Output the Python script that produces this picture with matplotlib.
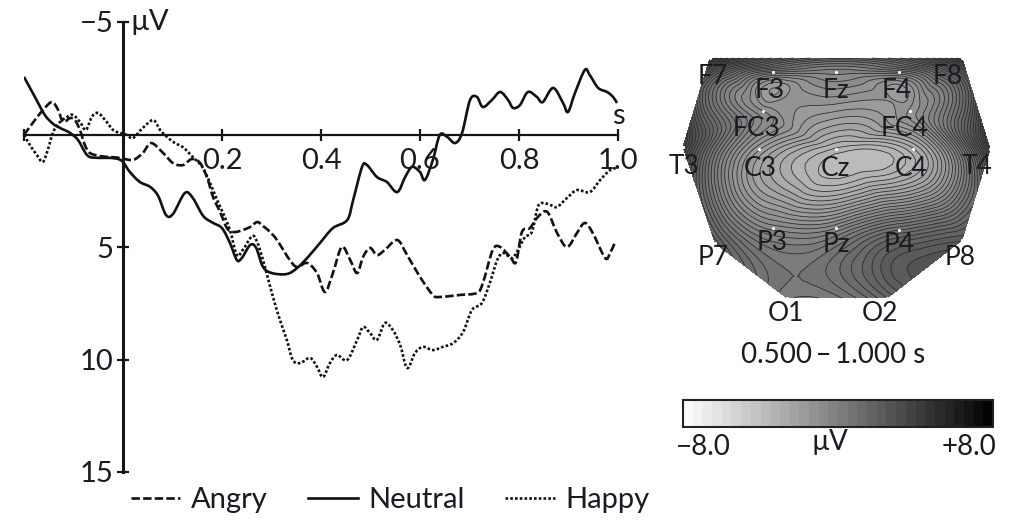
import numpy as np
import matplotlib
matplotlib.use("Agg")
import matplotlib.pyplot as plt
import matplotlib.tri as mtri
from matplotlib.lines import Line2D
from matplotlib.path import Path
from matplotlib.patches import PathPatch

plt.rcParams['font.family'] = ['Lato', 'DejaVu Sans']

# ---------------- ERP data (time in s, amplitude in microvolts) ----------------
neutral_t = [-0.200,-0.178,-0.158,-0.141,-0.127,-0.107,-0.091,-0.077,-0.067,-0.046,-0.026,-0.010,0.000,0.014,0.034,0.055,0.071,0.087,0.101,0.125,0.141,0.162,0.182,0.200,0.216,0.230,0.240,0.257,0.269,0.283,0.301,0.331,0.352,0.374,0.398,0.424,0.453,0.465,0.483,0.493,0.513,0.533,0.554,0.570,0.584,0.600,0.610,0.626,0.640,0.655,0.671,0.685,0.701,0.715,0.727,0.745,0.762,0.778,0.788,0.802,0.818,0.836,0.848,0.869,0.889,0.899,0.913,0.933,0.943,0.960,0.978,0.990,0.998]
neutral_v = [-2.56,-1.67,-0.87,-0.47,-0.29,-0.07,0.24,0.78,1.00,1.04,1.04,1.09,1.22,1.67,2.11,2.33,2.73,3.58,3.53,2.60,2.82,3.62,3.93,4.16,4.82,5.58,5.49,4.91,5.04,5.89,6.16,6.20,5.93,5.44,4.82,4.16,3.80,2.91,1.44,1.36,1.89,2.11,2.56,1.89,1.44,1.67,2.02,1.13,0.02,0.11,0.38,-0.07,-1.53,-1.67,-1.22,-1.53,-1.89,-1.53,-1.18,-1.31,-1.89,-1.67,-1.44,-2.07,-1.40,-1.00,-1.84,-2.87,-2.64,-2.07,-1.89,-1.67,-1.40]

angry_t = [-0.200,-0.178,-0.158,-0.143,-0.131,-0.121,-0.107,-0.097,-0.087,-0.077,-0.067,-0.046,-0.026,-0.006,0.020,0.040,0.057,0.081,0.101,0.121,0.139,0.156,0.170,0.182,0.196,0.210,0.222,0.236,0.257,0.271,0.283,0.297,0.311,0.337,0.352,0.372,0.392,0.408,0.424,0.442,0.459,0.473,0.485,0.499,0.513,0.529,0.554,0.574,0.600,0.626,0.640,0.681,0.715,0.727,0.747,0.762,0.782,0.794,0.806,0.822,0.838,0.857,0.877,0.897,0.917,0.933,0.949,0.974,0.984,0.994]
angry_v = [0.02,-0.64,-1.18,-1.44,-1.09,-0.56,-0.73,-0.64,-0.20,0.47,0.82,0.96,1.00,1.04,1.13,0.82,0.38,0.82,1.27,1.36,1.09,1.27,1.93,2.78,3.44,4.16,4.33,4.29,4.11,3.89,4.07,4.33,4.69,5.58,5.89,5.71,6.16,7.00,6.16,5.00,5.58,6.16,5.44,5.04,5.36,5.13,4.69,5.36,6.33,7.13,7.22,7.13,7.04,6.60,5.13,5.00,5.44,5.67,4.33,4.16,3.67,3.44,4.38,5.00,4.38,3.93,4.38,5.49,5.27,4.78]

happy_t = [-0.200,-0.188,-0.174,-0.162,-0.152,-0.141,-0.127,-0.113,-0.101,-0.087,-0.075,-0.063,-0.051,-0.036,-0.020,-0.006,0.008,0.020,0.040,0.061,0.075,0.089,0.105,0.121,0.141,0.160,0.176,0.190,0.202,0.216,0.230,0.242,0.261,0.271,0.281,0.291,0.303,0.317,0.331,0.343,0.358,0.378,0.392,0.404,0.418,0.432,0.453,0.473,0.485,0.499,0.513,0.529,0.545,0.560,0.574,0.590,0.606,0.626,0.646,0.667,0.687,0.705,0.725,0.741,0.756,0.768,0.786,0.798,0.812,0.826,0.838,0.848,0.863,0.877,0.897,0.917,0.943,0.964,0.984,0.998]
happy_v = [0.02,0.47,0.91,1.22,0.69,-0.11,-0.56,-0.78,-0.87,-0.56,-0.20,-0.78,-0.96,-0.64,-0.20,-0.07,0.02,0.16,-0.29,-0.64,-0.20,0.11,0.38,0.56,1.00,1.44,2.16,2.91,3.49,4.24,5.36,5.13,4.51,4.78,5.44,6.24,7.22,8.24,9.13,10.02,10.16,9.93,10.33,10.78,10.16,9.80,10.02,9.13,8.56,8.82,9.13,8.38,8.69,9.36,10.38,9.71,9.44,9.58,9.44,9.27,8.78,7.80,7.49,6.60,5.58,5.27,5.49,5.13,4.56,4.33,3.22,3.04,3.13,3.22,2.82,2.47,2.56,2.02,1.58,1.49]

series_names = ["Angry", "Neutral", "Happy"]
x_ticks = [-0.2, 0.2, 0.4, 0.6, 0.8, 1.0]
x_ticklabels = ["", "0.2", "0.4", "0.6", "0.8", "1.0"]
y_ticks = [-5, 5, 10, 15]
y_ticklabels = ["\u22125", "5", "10", "15"]

# ---------------- Topographic map data (0.500-1.000 s) ----------------
electrodes = ["F7", "F3", "Fz", "F4", "F8", "FC3", "FC4", "T3", "C3", "Cz", "C4", "T4",
              "P7", "P3", "Pz", "P4", "P8", "O1", "O2"]
electrode_uv = [4.3, -0.2, -0.4, -0.2, 4.0, -1.0, -1.2, 3.7, -1.7, -3.3, -2.8, 3.8,
                1.9, -0.6, -0.5, 1.0, 2.2, 0.3, 1.5]
cbar_min, cbar_max = -8.0, 8.0
map_title = "0.500\u2009\u2013\u20091.000 s"

# ---------------- layout (figure pixel coordinates) ----------------
W, H = 1016, 520
TXT = '#1a1a22'
dot_pos = {"F7": (710, 58), "F3": (773, 72), "Fz": (836, 72), "F4": (899, 72), "F8": (962, 58),
           "FC3": (763, 111), "FC4": (910, 111),
           "T3": (683, 147), "C3": (759, 149), "Cz": (836, 149), "C4": (913, 149), "T4": (990, 149),
           "P7": (715, 243), "P3": (773, 228), "Pz": (836, 228), "P4": (899, 230), "P8": (962, 240),
           "O1": (787, 298), "O2": (887, 298)}
lab_pos = {"F7": (713, 77), "F3": (770, 90), "Fz": (836, 91), "F4": (897, 91), "F8": (948, 77),
           "FC3": (757, 129), "FC4": (905, 129),
           "T3": (684, 167), "C3": (760, 168), "Cz": (836, 168), "C4": (911, 168), "T4": (977, 167),
           "P7": (713, 258), "P3": (772, 243), "Pz": (836, 245), "P4": (899, 244), "P8": (960, 258),
           "O1": (786, 314), "O2": (880, 314)}


def px_rect(x0, y0, x1, y1):
    return [x0 / W, 1 - y1 / H, (x1 - x0) / W, (y1 - y0) / H]


def ftext(x, y, s, **kw):
    return fig.text(x / W, 1 - y / H, s, color=TXT, **kw)


def smooth_path(t, v):
    """Bezier path passing through every data point (Catmull-Rom tangents)."""
    p = np.column_stack([t, v]).astype(float)
    n = len(p)
    verts = [p[0]]
    codes = [Path.MOVETO]
    for i in range(n - 1):
        p0 = p[max(i - 1, 0)]
        p1 = p[i]
        p2 = p[i + 1]
        p3 = p[min(i + 2, n - 1)]
        c1 = p1 + (p2 - p0) / 6.0
        c2 = p2 - (p3 - p1) / 6.0
        verts += [c1, c2, p2]
        codes += [Path.CURVE4] * 3
    return Path(verts, codes)


fig = plt.figure(figsize=(W / 100, H / 100), dpi=100)

# ---------------- ERP panel ----------------
ax = fig.add_axes(px_rect(24, 22, 618, 472))
ax.set_xlim(-0.2, 1.0)
ax.set_ylim(15, -5)
ax.patch.set_alpha(0)
for s in ['top', 'right']:
    ax.spines[s].set_visible(False)
ax.spines['left'].set_position(('data', 0))
ax.spines['bottom'].set_position(('data', 0))
ax.spines['left'].set_linewidth(2.2)
ax.spines['bottom'].set_linewidth(1.6)
ax.spines['left'].set_color('#151515')
ax.spines['bottom'].set_color('#151515')
ax.set_xticks(x_ticks)
ax.set_xticklabels(x_ticklabels)
ax.set_yticks(y_ticks)
ax.set_yticklabels(y_ticklabels)
ax.tick_params(axis='both', direction='inout', length=8, width=1.6, color='#151515',
               labelsize=21, labelcolor=TXT)
ax.tick_params(axis='x', pad=6)
ax.tick_params(axis='y', pad=3)

styles = {
    "Angry": dict(ls=(0, (3.2, 1.2)), lw=1.9),
    "Neutral": dict(ls='-', lw=1.9),
    "Happy": dict(ls=(0, (1.0, 0.8)), lw=1.9),
}
data = {"Angry": (angry_t, angry_v), "Neutral": (neutral_t, neutral_v), "Happy": (happy_t, happy_v)}
for name in series_names:
    t, v = data[name]
    patch = PathPatch(smooth_path(t, v), facecolor='none', edgecolor='#111111',
                      linestyle=styles[name]['ls'], linewidth=styles[name]['lw'],
                      joinstyle='round', capstyle='butt')
    ax.add_patch(patch)

ftext(130, 22, "\u00b5V", fontsize=21, ha='left', va='center')
ftext(618, 116, "s", fontsize=21, ha='center', va='center')

handles = [Line2D([], [], color='#111111', **styles[n]) for n in series_names]
fig.legend(handles, series_names, loc='center', bbox_to_anchor=(390 / W, 1 - 500 / H),
           ncol=3, frameon=False, fontsize=21, handlelength=1.7, handletextpad=0.35,
           columnspacing=1.4, labelcolor=TXT)

# ---------------- topographic map ----------------
ax2 = fig.add_axes(px_rect(660, 40, 1016, 340))
ax2.set_xlim(660, 1016)
ax2.set_ylim(340, 40)
ax2.axis('off')
ex = np.array([dot_pos[e][0] for e in electrodes], dtype=float)
ey = np.array([dot_pos[e][1] for e in electrodes], dtype=float)
tri = mtri.Triangulation(ex, ey)
refiner = mtri.UniformTriRefiner(tri)
tri_r, z_r = refiner.refine_field(np.array(electrode_uv), subdiv=4)
levels = np.arange(cbar_min, cbar_max + 0.01, 0.5)
cs = ax2.tricontourf(tri_r, z_r, levels=levels, cmap='gray_r', vmin=cbar_min, vmax=cbar_max)
ax2.tricontour(tri_r, z_r, levels=np.arange(cbar_min, cbar_max + 0.01, 0.25),
               colors='#2a2a2a', linewidths=0.55, linestyles='solid')
ax2.scatter(ex, ey, s=5, color='white', zorder=3, linewidths=0)
for e in electrodes:
    x, y = lab_pos[e]
    ax2.text(x, y, e, fontsize=19, color=TXT, ha='center', va='center', zorder=4)

ftext(833, 355, map_title, fontsize=20, ha='center', va='center')

# ---------------- colour bar ----------------
cax = fig.add_axes(px_rect(683, 400, 993, 427))
cb = fig.colorbar(cs, cax=cax, orientation='horizontal')
cb.set_ticks([])
cb.outline.set_linewidth(1.5)
cb.outline.set_edgecolor('#222222')
ftext(703, 447, "\u22128.0", fontsize=20, ha='center', va='center')
ftext(830, 442, "\u00b5V", fontsize=20, ha='center', va='center')
ftext(969, 447, "+8.0", fontsize=20, ha='center', va='center')

fig.savefig("out.png", dpi=100)
